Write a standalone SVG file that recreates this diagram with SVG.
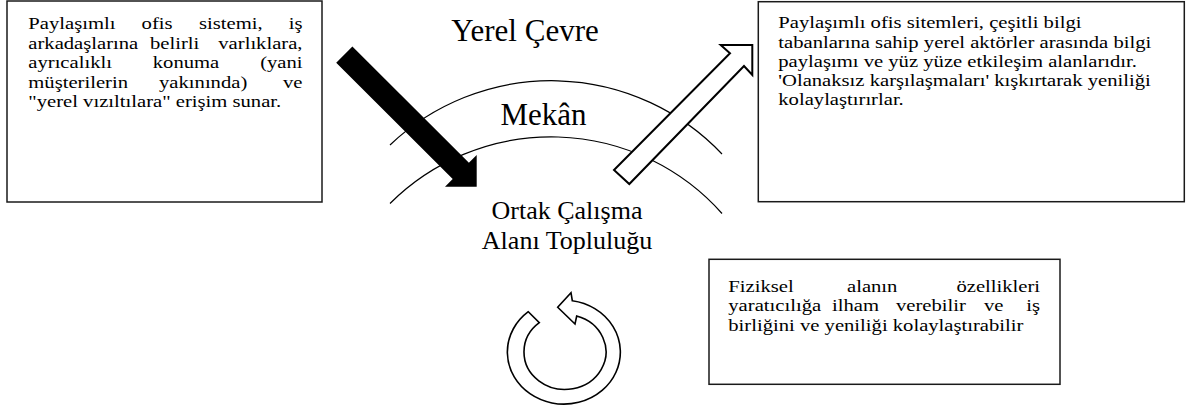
<svg xmlns="http://www.w3.org/2000/svg" width="1192" height="414" viewBox="0 0 1192 414">
<style>
text{font-family:'Liberation Serif','Times New Roman','DejaVu Serif','Noto Serif',serif;fill:#000}
.box{fill:#fff;stroke:#1a1a1a;stroke-width:1.5}
.t{font-size:17.5px}
.big{font-size:31px;text-anchor:middle}
.mid{font-size:26px;text-anchor:middle}
.arc{fill:none;stroke:#000;stroke-width:1.2}
.e{text-anchor:end}
</style>
<rect width="1192" height="414" fill="#fff"/>

<g id="arcs">
  <path class="arc" d="M390,145 A235,235 0 0 1 722,154"/>
  <path class="arc" d="M390,203.5 A228.5,228.5 0 0 1 722,213.5"/>
</g>

<g id="yerel-cevre">
  <text class="big" x="525" y="41">Yerel Çevre</text>
</g>
<g id="mekan">
  <text class="big" x="543.5" y="125">Mekân</text>
</g>
<g id="ortak-calisma">
  <text class="mid" x="567" y="218.5">Ortak Çalışma</text>
  <text class="mid" x="567" y="248.5">Alanı Topluluğu</text>
</g>

<g id="box-left">
  <rect class="box" x="7" y="1" width="315" height="201"/>
  <g transform="translate(28.3 0) scale(1.18 1) translate(-28.3 0)">
    <text class="t" y="29.5"><tspan x="28.3">Paylaşımlı</tspan><tspan x="124.3">ofis</tspan><tspan x="173">sistemi,</tspan><tspan x="260.7" class="e">iş</tspan></text>
    <text class="t" y="49"><tspan x="28.3">arkadaşlarına</tspan><tspan x="131.4">belirli</tspan><tspan x="260.7" class="e">varlıklara,</tspan></text>
    <text class="t" y="68.5"><tspan x="28.3">ayrıcalıklı</tspan><tspan x="133.8">konuma</tspan><tspan x="260.7" class="e">(yani</tspan></text>
    <text class="t" y="88"><tspan x="28.3">müşterilerin</tspan><tspan x="139.1">yakınında)</tspan><tspan x="260.7" class="e">ve</tspan></text>
    <text class="t" x="28.3" y="107.5">"yerel vızıltılara" erişim sunar.</text>
  </g>
</g>

<g id="box-right">
  <rect class="box" x="758.3" y="1.7" width="426" height="200"/>
  <g transform="translate(778.3 0) scale(1.18 1) translate(-778.3 0)">
    <text class="t" x="778.3" y="28.5">Paylaşımlı ofis sitemleri, çeşitli bilgi</text>
    <text class="t" x="778.3" y="47.8">tabanlarına sahip yerel aktörler arasında bilgi</text>
    <text class="t" x="778.3" y="67">paylaşımı ve yüz yüze etkileşim alanlarıdır.</text>
    <text class="t" x="778.3" y="86.3">'Olanaksız karşılaşmaları' kışkırtarak yeniliği</text>
    <text class="t" x="778.3" y="105.5">kolaylaştırırlar.</text>
  </g>
</g>

<g id="box-fiziksel">
  <rect class="box" x="709" y="259.3" width="351" height="125"/>
  <g transform="translate(728.3 0) scale(1.18 1) translate(-728.3 0)">
    <text class="t" y="292"><tspan x="728.3">Fiziksel</tspan><tspan x="828.9">alanın</tspan><tspan x="992.5" class="e">özellikleri</tspan></text>
    <text class="t" y="311.5"><tspan x="728.3">yaratıcılığa</tspan><tspan x="816.2">ilham</tspan><tspan x="870.4">verebilir</tspan><tspan x="945">ve</tspan><tspan x="992.5" class="e">iş</tspan></text>
    <text class="t" x="728.3" y="331">birliğini ve yeniliği kolaylaştırabilir</text>
  </g>
</g>

<g id="cycle">
  <path d="M528.3,311.7 A56.5,52 0 1 0 572.3,300.7 L571,292.7 L557.7,307.3 L575,324 L576.7,316 A41,37.5 0 1 1 539.3,322.7 Z" fill="#fff" stroke="#000" stroke-width="1.6" stroke-linejoin="miter"/>
</g>

<g id="connectors">
  <polygon points="352.4,46.6 468.9,162.7 476.7,155 476.7,186.7 445,186.7 452.7,178.9 336.2,62.8" fill="#000"/>
  <polygon points="614,170 730,53.3 720.7,45 752.3,45 752.3,75 744,66 629.3,184" fill="#fff" stroke="#000" stroke-width="2" stroke-linejoin="miter"/>
</g>
</svg>
